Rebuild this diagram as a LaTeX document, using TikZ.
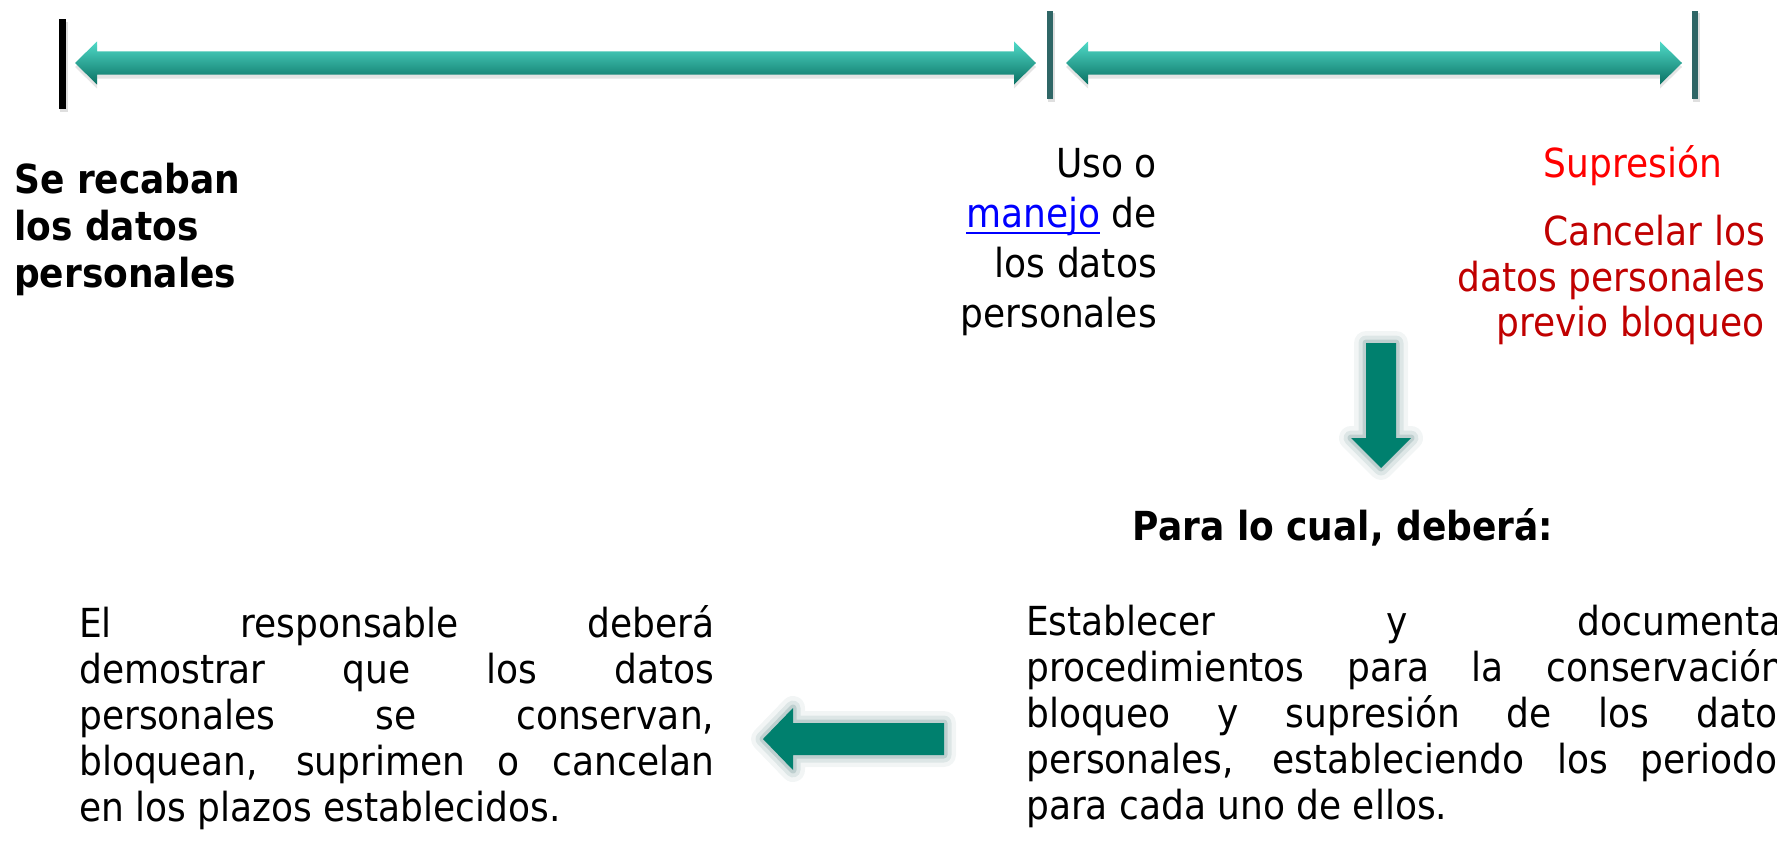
\documentclass[tikz,border=0pt]{standalone}
\usepackage{fontspec}
\setmainfont{DejaVuSansCondensed.ttf}[BoldFont=DejaVuSansCondensed-Bold.ttf]
\tolerance=10000
\hbadness=10000
\definecolor{barteal}{RGB}{47,102,102}
\definecolor{arrowlight}{RGB}{80,218,200}
\definecolor{arrowmid}{RGB}{22,150,132}
\definecolor{arrowdark}{RGB}{10,112,98}
\definecolor{blockteal}{RGB}{0,128,110}
\definecolor{glowteal}{RGB}{70,118,118}
\definecolor{supred}{RGB}{255,0,0}
\definecolor{cancred}{RGB}{192,0,0}
\definecolor{linkblue}{RGB}{0,0,255}
% underlined link word
\newcommand\linkword[1]{\textcolor{linkblue}{\setbox0\hbox{#1}\rlap{\rule[-7pt]{\wd0}{2pt}}\box0}}
\tikzset{
  plaintext/.style={inner sep=0pt, font=\fontsize{40}{50}\selectfont},
  boldtext/.style={inner sep=0pt, align=left, font=\fontsize{40}{47}\selectfont\bfseries},
  paratext/.style={inner sep=0pt, align=justify, font=\fontsize{40}{46}\selectfont},
  blockarrow/.style={fill=blockteal,
    preaction={draw=glowteal, line width=24pt, draw opacity=.07, line join=round},
    preaction={draw=glowteal, line width=15pt, draw opacity=.12, line join=round},
    preaction={draw=glowteal, line width=7pt, draw opacity=.2, line join=round}}
}
\begin{document}
\begin{tikzpicture}[x=1pt, y=-1pt]
  \useasboundingbox (0,0) rectangle (1777,851);

  % time line
  \fill[black!25, opacity=.5] (60,22) rectangle (68,112);
  \fill[black] (59,19) rectangle (66,109);
  \foreach \x in {1047,1692}{
    \fill[black!25, opacity=.5] (\x+1,13) rectangle (\x+8,102);
    \fill[barteal] (\x,11) rectangle (\x+6,99);
  }
  \foreach \a/\b in {75/1036, 1066/1682}{
    \fill[black!30, opacity=.35] (\a,67) -- (\a+22,45.5) -- (\a+22,55.5) -- (\b-22,55.5) -- (\b-22,45.5)
      -- (\b,67) -- (\b-22,88.5) -- (\b-22,78.5) -- (\a+22,78.5) -- (\a+22,88.5) -- cycle;
    \shade[top color=arrowlight, middle color=arrowmid, bottom color=arrowdark]
      (\a,63) -- (\a+22,41.5) -- (\a+22,51.5) -- (\b-22,51.5) -- (\b-22,41.5)
      -- (\b,63) -- (\b-22,84.5) -- (\b-22,74.5) -- (\a+22,74.5) -- (\a+22,84.5) -- cycle;
  }

  \node[boldtext, anchor=north west] (collect) at (14,163) {Se recaban\\los datos\\personales};
  \node[plaintext, align=right, anchor=north east] (use) at (1157,148)
    {Uso o\\\linkword{manejo} de\\los datos\\personales};
  \node[plaintext, text=supred, anchor=base east] (supr) at (1722,177) {Supresión};
  \node[plaintext, text=cancred, align=right, anchor=north east,
    font=\fontsize{40}{45.5}\selectfont] (cancel) at (1765,215)
    {Cancelar los\\datos personales\\previo bloqueo};

  % down and left arrows
  \path[blockarrow] (1366,343) -- (1396,343) -- (1396,438) -- (1411,438) -- (1381,468)
    -- (1351,438) -- (1366,438) -- cycle;
  \path[blockarrow] (944,723) -- (944,755) -- (793,755) -- (793,770) -- (763,739)
    -- (793,708) -- (793,723) -- cycle;

  \node[boldtext, anchor=base] (para) at (1343,540) {Para lo cual, deberá:};

  \node[paratext, text width=635pt, anchor=north west] (proof) at (79,605)
    {El responsable deberá\linebreak demostrar que los datos\linebreak
     personales se conservan,\linebreak bloquean, suprimen o cancelan\linebreak
     en los plazos establecidos.};
  \node[paratext, text width=770pt, anchor=north west] (steps) at (1026,605)
    {Establecer y documentar\linebreak procedimientos para la conservación,\linebreak
     bloqueo y supresión de los datos\linebreak personales, estableciendo los periodos\linebreak
     para cada uno de ellos.};
\end{tikzpicture}
\end{document}
